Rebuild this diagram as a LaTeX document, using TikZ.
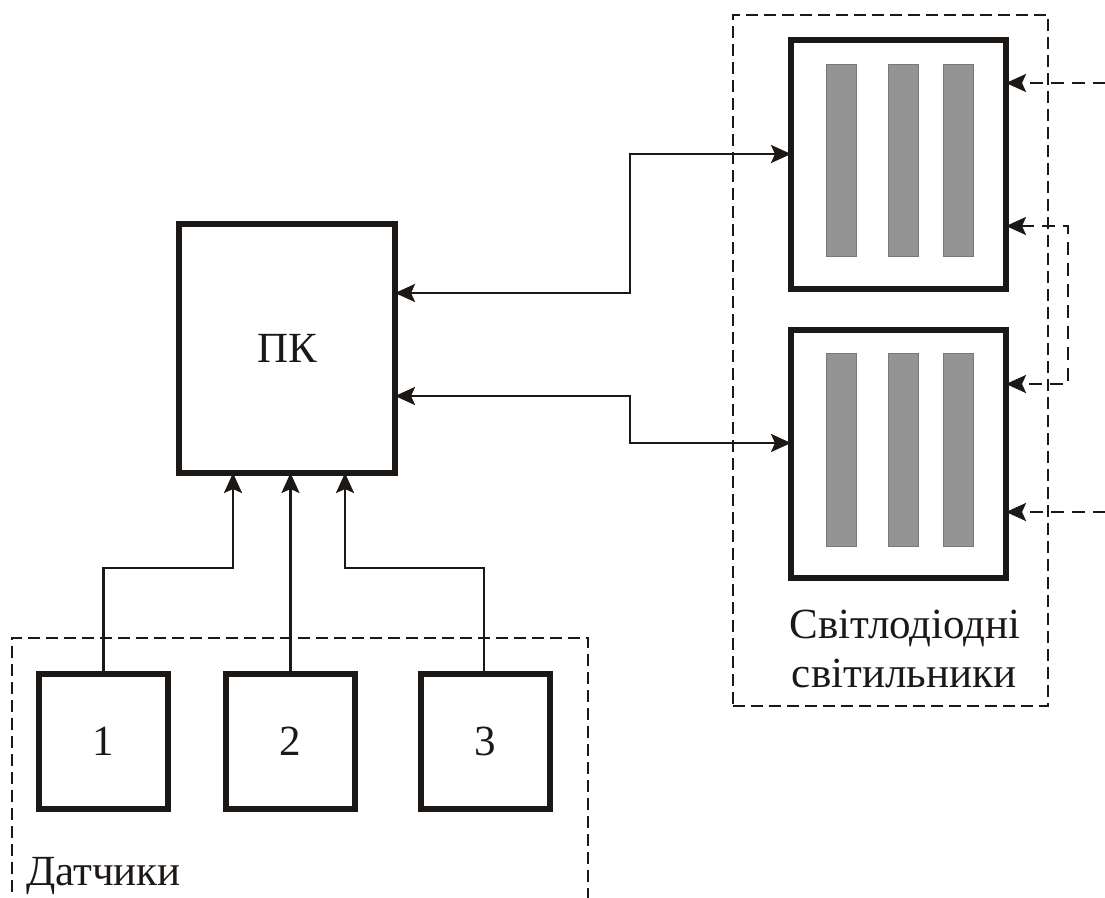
\documentclass[tikz,border=0pt]{standalone}
\usepackage{fontspec}
\setmainfont{Liberation Serif}
\usetikzlibrary{arrows.meta}
\definecolor{ink}{RGB}{28,24,22}
\definecolor{barfill}{RGB}{148,148,148}
\definecolor{barline}{RGB}{120,120,120}
\begin{document}
\begin{tikzpicture}[x=1pt,y=-1pt,
  every node/.style={font=\rmfamily\fontsize{43}{49}\selectfont, text=ink},
  tip/.style={},
  block/.style={draw=ink, line width=5.5pt, outer sep=0pt, inner sep=0pt, fill=white},
  dbox/.style={draw=ink, line width=2.4pt, dash pattern=on 12pt off 6pt},
  conn/.style={draw=ink, line width=2.4pt, -{Stealth[length=20pt,width=18pt,inset=4pt]}},
  bconn/.style={draw=ink, line width=2.4pt, {Stealth[length=20pt,width=18pt,inset=4pt]}-{Stealth[length=20pt,width=18pt,inset=4pt]}},
  dconn/.style={draw=ink, line width=2.4pt, dash pattern=on 13pt off 8pt, -{Stealth[length=20pt,width=18pt,inset=4pt]}},
  dbconn/.style={draw=ink, line width=2.4pt, dash pattern=on 13pt off 8pt, {Stealth[length=20pt,width=18pt,inset=4pt]}-{Stealth[length=20pt,width=18pt,inset=4pt]}},
  bar/.style={fill=barfill, draw=barline, line width=0.8pt}
]
\useasboundingbox (0,0) rectangle (1105,897);

% group frames
\node[dbox, minimum width=315pt, minimum height=691pt, inner sep=0pt] (lampgroup) at (890.5,360.5) {};
\draw[dbox] (12,910) -- (12,638) -- (588,638) -- (588,910);

% PC
\node[block, minimum width=216pt, minimum height=249pt] (pc) at (287,348.5) {ПК};

% lamps
\node[block, minimum width=215pt, minimum height=249pt] (lamp1) at (898.5,164.5) {};
\node[block, minimum width=215pt, minimum height=248pt] (lamp2) at (898.5,454) {};
\foreach \bx in {826,888,943}{
  \draw[bar] (\bx,64) rectangle ++(30,192);
  \draw[bar] (\bx,353) rectangle ++(30,193);
}

% sensors
\node[block, minimum width=129pt, minimum height=135pt] (s1) at (103.5,741.5) {1};
\node[block, minimum width=129pt, minimum height=135pt] (s2) at (290.5,741.5) {2};
\node[block, minimum width=129pt, minimum height=135pt] (s3) at (485.5,741.5) {3};

% labels
\node[anchor=base] (lbl1) at (905,638) {Світлодіодні};
\node[anchor=base] (lbl2) at (904,687) {світильники};
\node[anchor=base west, inner sep=0pt] (lbl3) at (26,885) {Датчики};

% sensor connectors
\draw[conn] (s1.north) -- ++(0,-106) -| ([xshift=-54pt]pc.south);
\draw[conn] (s2.north) -- (pc.south -| s2.north);
\draw[conn] ([xshift=-1.5pt]s3.north) -- ++(0,-106) -| ([xshift=58pt]pc.south);

% PC <-> lamps
\draw[bconn] ([yshift=55.5pt]pc.east) -- ++(235,0) |- ([yshift=10.5pt]lamp1.west);
\draw[bconn] ([yshift=-47.5pt]pc.east) -- ++(235,0) |- ([yshift=11pt]lamp2.west);

% external dashed inputs
\coordinate (in1) at (1106,83);
\coordinate (in2) at (1106,512);
\draw[dconn] (in1) -- ([yshift=81.5pt]lamp1.east);
\draw[dconn] (in2) -- ([yshift=-58pt]lamp2.east);
\draw[dbconn] ([yshift=-61.5pt]lamp1.east) -- ++(62,0) |- ([yshift=70pt]lamp2.east);
\end{tikzpicture}
\end{document}
